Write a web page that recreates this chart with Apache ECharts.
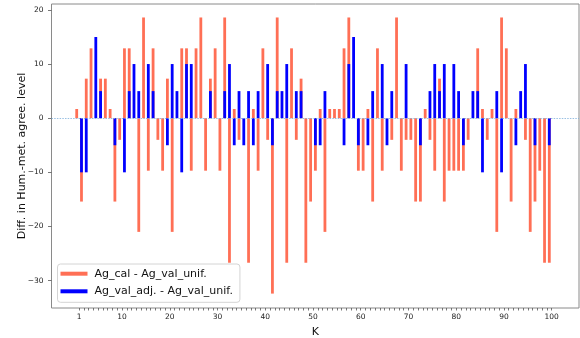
<!DOCTYPE html>
<html>
<head>
<meta charset="utf-8">
<script src="https://cdn.jsdelivr.net/npm/echarts@6/dist/echarts.min.js"></script>
<style>
  html, body { margin: 0; padding: 0; background: #fff; }
  #chart { width: 580px; height: 338px; }
</style>
</head>
<body>
<div id="chart"></div>
<script>
// K = 1..100
const K = [
  1, 2, 3, 4, 5, 6, 7, 8, 9, 10, 11, 12, 13, 14, 15, 16, 17, 18, 19, 20,
  21, 22, 23, 24, 25, 26, 27, 28, 29, 30, 31, 32, 33, 34, 35, 36, 37, 38, 39, 40,
  41, 42, 43, 44, 45, 46, 47, 48, 49, 50, 51, 52, 53, 54, 55, 56, 57, 58, 59, 60,
  61, 62, 63, 64, 65, 66, 67, 68, 69, 70, 71, 72, 73, 74, 75, 76, 77, 78, 79, 80,
  81, 82, 83, 84, 85, 86, 87, 88, 89, 90, 91, 92, 93, 94, 95, 96, 97, 98, 99, 100
]

// Ag_cal - Ag_val_unif.
const calDiff = [
  1.7, -15.4, 7.3, 12.9, 0, 7.3, 7.3, 1.7, -15.4, -4.0,
  12.9, 12.9, 0, -21.0, 18.6, -9.7, 12.9, -4.0, -9.7, 7.3,
  -21.0, 0, 12.9, 12.9, -9.7, 12.9, 18.6, -9.7, 7.3, 12.9,
  -9.7, 18.6, -26.7, 1.7, -4.0, 0, -26.7, 1.7, -9.7, 12.9,
  -4.0, -32.4, 18.6, 0, -26.7, 12.9, -4.0, 7.3, -26.7, -15.4,
  -9.7, 1.7, -21.0, 1.7, 1.7, 1.7, 12.9, 18.6, 0, -9.7,
  -9.7, 1.7, -15.4, 12.9, -9.7, 0, -4.0, 18.6, -9.7, -4.0,
  -4.0, -15.4, -15.4, 1.7, -4.0, -9.7, 7.3, -15.4, -9.7, -9.7,
  -9.7, -9.7, -4.0, 0, 12.9, 1.7, -4.0, 1.7, -21.0, 18.6,
  12.9, -15.4, 1.7, 0, -4.0, -21.0, -15.4, -9.7, -26.7, -26.7
]

// Ag_val_adj. - Ag_val_unif.
const adjDiff = [
  0, -10, -10, 0, 15, 5, 0, 0, -5, 0,
  -10, 5, 10, 5, 0, 10, 5, 0, 0, -5,
  10, 5, -10, 10, 10, 0, 0, 0, 5, 0,
  0, 5, 10, -5, 5, -5, 5, -5, 5, 0,
  10, -5, 5, 5, 10, 0, 5, 5, 0, 0,
  -5, -5, 5, 0, 0, 0, -5, 10, 15, -5,
  0, -5, 5, 0, 10, -5, 5, 0, 0, 10,
  0, 0, -5, 0, 5, 10, 5, 10, 0, 10,
  5, -5, 0, 5, 5, -10, 0, 0, 5, -10,
  0, 0, -5, 5, 10, 0, -5, 0, 0, -5
]

const xTicks = [1, 10, 20, 30, 40, 50, 60, 70, 80, 90, 100]
const yTicks = [-30, -20, -10, 0, 10, 20]

const FONT = 'DejaVu Sans'

// vlines sit half a step left of the K tick
function toPoints(vals) {
  return vals.map((v, i) => [K[i] - 0.5, v === 0 ? null : v])
}

const chart = echarts.init(document.getElementById('chart'), null, { renderer: 'canvas' })

chart.setOption({
  backgroundColor: '#fff',
  animation: false,
  textStyle: { fontFamily: FONT },
  grid: {
    left: 51.5,
    right: 1,
    top: 4,
    bottom: 30,
    containLabel: false,
    outerBoundsMode: 'none',
    show: true,
    borderColor: '#8a8a8a',
    borderWidth: 1,
    backgroundColor: 'transparent'
  },
  legend: {
    orient: 'vertical',
    left: 57.5,
    top: 264,
    padding: [4.2, 7, 5.5, 3],
    itemGap: 6.6,
    itemWidth: 27,
    itemHeight: 4,
    icon: 'rect',
    backgroundColor: 'rgba(255,255,255,0.85)',
    borderColor: '#d4d4d4',
    borderWidth: 1,
    borderRadius: 3,
    textStyle: {
      fontFamily: FONT,
      fontSize: 11,
      color: '#111',
      padding: [0, 0, 0, 2]
    },
    data: ['Ag_cal - Ag_val_unif.', 'Ag_val_adj. - Ag_val_unif.']
  },
  xAxis: {
    type: 'value',
    min: -4.78,
    max: 105.72,
    name: 'K',
    nameLocation: 'middle',
    nameGap: 18.5,
    nameMoveOverlap: false,
    nameTextStyle: { fontFamily: FONT, fontSize: 11, color: '#111' },
    axisLine: { show: false, onZero: false },
    splitLine: { show: false },
    axisTick: {
      show: true,
      customValues: K,
      length: 2.5,
      lineStyle: { color: '#555', width: 0.8 }
    },
    axisLabel: {
      customValues: xTicks,
      margin: 5,
      fontFamily: FONT,
      fontSize: 7.5,
      color: '#222'
    }
  },
  yAxis: {
    type: 'value',
    min: -35.06,
    max: 21.09,
    name: 'Diff. in Hum.-met. agree. level',
    nameLocation: 'middle',
    nameGap: 24,
    nameMoveOverlap: false,
    nameTextStyle: { fontFamily: FONT, fontSize: 11, color: '#111' },
    axisLine: { show: false, onZero: false },
    splitLine: { show: false },
    axisTick: {
      show: true,
      customValues: yTicks,
      length: 3.5,
      lineStyle: { color: '#555', width: 0.8 }
    },
    axisLabel: {
      customValues: yTicks,
      margin: 8,
      fontFamily: FONT,
      fontSize: 7.5,
      color: '#222',
      formatter: (v) => String(v).replace('-', '\u2212')
    }
  },
  series: [
    {
      name: 'Ag_cal - Ag_val_unif.',
      type: 'bar',
      data: toPoints(calDiff),
      barWidth: 2.8,
      barGap: '-100%',
      itemStyle: { color: '#ff6347', opacity: 0.92 },
      markLine: {
        silent: true,
        symbol: 'none',
        label: { show: false },
        lineStyle: { color: '#7fb0dc', width: 0.8, type: [1.5, 1.2] },
        data: [{ yAxis: 0 }]
      }
    },
    {
      name: 'Ag_val_adj. - Ag_val_unif.',
      type: 'bar',
      data: toPoints(adjDiff),
      barWidth: 2.8,
      barGap: '-100%',
      itemStyle: { color: '#0000ff' }
    }
  ]
})
</script>
</body>
</html>
